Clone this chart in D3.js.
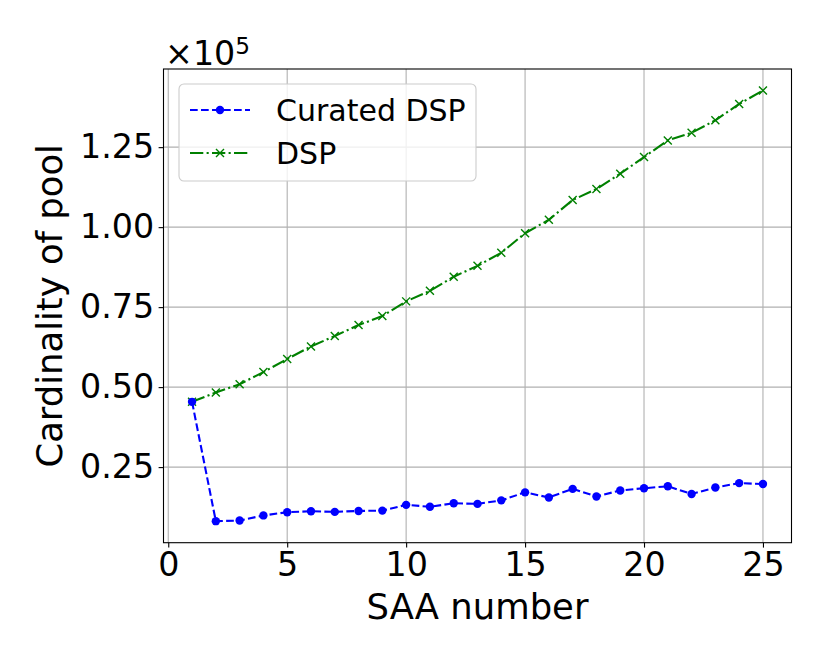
<!DOCTYPE html>
<html>
<head>
<meta charset="utf-8">
<script src="https://cdn.jsdelivr.net/npm/d3@7"></script>
<style>
	body { margin: 0; background: #fff; }
	text { font-family: "DejaVu Sans", sans-serif; fill: #000; }
</style>
</head>
<body>
<div id="chart"></div>
<script>

var saaNumbers = d3.range(1, 26);

// values in units of 1e5
var curatedDsp = [0.454, 0.081, 0.083, 0.099, 0.109, 0.112, 0.110, 0.113, 0.114, 0.132,
	0.126, 0.137, 0.135, 0.146, 0.171, 0.155, 0.182, 0.158, 0.177, 0.184,
	0.190, 0.166, 0.186, 0.200, 0.197];

var dsp = [0.454, 0.483, 0.509, 0.547, 0.588, 0.627, 0.660, 0.694, 0.722, 0.768,
	0.801, 0.845, 0.879, 0.920, 0.981, 1.023, 1.085, 1.119, 1.167, 1.219,
	1.271, 1.295, 1.334, 1.385, 1.427];

var xTicks = [0, 5, 10, 15, 20, 25];
var yTicks = [0.25, 0.50, 0.75, 1.00, 1.25];
var seriesNames = ["Curated DSP", "DSP"];

function drawChart(id) {

	d3.select(id).selectAll("*").remove();

	var width = 830, height = 664;
	var left = 163.5, right = 791.5, top = 69, bottom = 542.7;

	var svg = d3.select(id).append("svg")
				.attr("width", width)
				.attr("height", height);

	// matplotlib style 5% margins
	var xExt = d3.extent(saaNumbers);
	var xPad = (xExt[1] - xExt[0]) * 0.05;
	var all = curatedDsp.concat(dsp);
	var yExt = d3.extent(all);
	var yPad = (yExt[1] - yExt[0]) * 0.05;

	var x = d3.scaleLinear().domain([xExt[0] - xPad, xExt[1] + xPad]).range([left, right]);
	var y = d3.scaleLinear().domain([yExt[0] - yPad, yExt[1] + yPad]).range([bottom, top]);

	// grid
	var grid = svg.append("g").attr("class", "grid");
	grid.selectAll("line.gx")
		.data(xTicks)
		.enter()
		.append("line")
		.attr("x1", function(d) {return x(d);})
		.attr("x2", function(d) {return x(d);})
		.attr("y1", top)
		.attr("y2", bottom)
		.attr("stroke", "#b0b0b0")
		.attr("stroke-width", 1.1);
	grid.selectAll("line.gy")
		.data(yTicks)
		.enter()
		.append("line")
		.attr("x1", left)
		.attr("x2", right)
		.attr("y1", function(d) {return y(d);})
		.attr("y2", function(d) {return y(d);})
		.attr("stroke", "#b0b0b0")
		.attr("stroke-width", 1.1);

	// axes
	var xAxis = d3.axisBottom(x).tickValues(xTicks).tickSize(4.9).tickPadding(4.5)
				.tickFormat(d3.format("d"));
	var yAxis = d3.axisLeft(y).tickValues(yTicks).tickSize(4.9).tickPadding(4.5)
				.tickFormat(d3.format(".2f"));

	var gx = svg.append("g").attr("transform", "translate(0," + bottom + ")").call(xAxis);
	var gy = svg.append("g").attr("transform", "translate(" + left + ",0)").call(yAxis);

	[gx, gy].forEach(function(g) {
		g.select(".domain").remove();
		g.selectAll("line").attr("stroke", "#000").attr("stroke-width", 1.1);
		g.selectAll("text")
			.style("font-family", "DejaVu Sans")
			.style("font-size", "33.3px")
			.attr("fill", "#000");
	});

	// frame
	svg.append("rect")
		.attr("x", left)
		.attr("y", top)
		.attr("width", right - left)
		.attr("height", bottom - top)
		.attr("fill", "none")
		.attr("stroke", "#000")
		.attr("stroke-width", 1.1);

	var line = d3.line()
				.x(function(d) {return x(d[0]);})
				.y(function(d) {return y(d[1]);});

	var curatedPts = saaNumbers.map(function(n, i) {return [n, curatedDsp[i]];});
	var dspPts = saaNumbers.map(function(n, i) {return [n, dsp[i]];});

	// DSP (green, dash-dot, x markers)
	svg.append("path")
		.datum(dspPts)
		.attr("d", line)
		.attr("fill", "none")
		.attr("stroke", "#008000")
		.attr("stroke-width", 2.1)
		.attr("stroke-dasharray", "13.3,3.3,2.1,3.3");

	svg.selectAll("path.xmark")
		.data(dspPts)
		.enter()
		.append("path")
		.attr("class", "xmark")
		.attr("d", function(d) {
			var cx = x(d[0]), cy = y(d[1]), s = 4;
			return "M" + (cx - s) + "," + (cy - s) + "L" + (cx + s) + "," + (cy + s)
				+ "M" + (cx - s) + "," + (cy + s) + "L" + (cx + s) + "," + (cy - s);
		})
		.attr("stroke", "#008000")
		.attr("stroke-width", 1.4)
		.attr("fill", "none");

	// Curated DSP (blue, dashed, circle markers)
	svg.append("path")
		.datum(curatedPts)
		.attr("d", line)
		.attr("fill", "none")
		.attr("stroke", "#0000ff")
		.attr("stroke-width", 2.1)
		.attr("stroke-dasharray", "7.7,3.3");

	svg.selectAll("circle.dot")
		.data(curatedPts)
		.enter()
		.append("circle")
		.attr("class", "dot")
		.attr("cx", function(d) {return x(d[0]);})
		.attr("cy", function(d) {return y(d[1]);})
		.attr("r", 4.2)
		.attr("fill", "#0000ff");

	// axis labels
	svg.append("text")
		.attr("x", (left + right) / 2)
		.attr("y", 619)
		.attr("text-anchor", "middle")
		.style("font-size", "35.4px")
		.text("SAA number");

	svg.append("text")
		.attr("transform", "translate(62," + ((top + bottom) / 2) + ") rotate(-90)")
		.attr("text-anchor", "middle")
		.style("font-size", "35.4px")
		.text("Cardinality of pool");

	// offset text
	var off = svg.append("text")
		.attr("x", 165)
		.attr("y", 65)
		.style("font-size", "33.3px");
	off.append("tspan").text("\u00d710");
	off.append("tspan").attr("dy", -11).style("font-size", "23.3px").text("5");

	// legend
	var lg = svg.append("g").attr("class", "legend");
	lg.append("rect")
		.attr("x", 179)
		.attr("y", 84)
		.attr("width", 297)
		.attr("height", 97)
		.attr("rx", 5)
		.attr("fill", "#fff")
		.attr("fill-opacity", 0.8)
		.attr("stroke", "#cccccc")
		.attr("stroke-width", 1.1);

	var rows = lg.selectAll("g.row")
				.data(seriesNames)
				.enter()
				.append("g")
				.attr("class", "row")
				.attr("transform", function(d, i) {return "translate(0," + (110 + i * 43) + ")";});

	rows.append("line")
		.attr("x1", 190)
		.attr("x2", 250)
		.attr("y1", 0)
		.attr("y2", 0)
		.attr("stroke", function(d, i) {return i == 0 ? "#0000ff" : "#008000";})
		.attr("stroke-width", 2.1)
		.attr("stroke-dasharray", function(d, i) {return i == 0 ? "7.7,3.3" : "13.3,3.3,2.1,3.3";});

	rows.each(function(d, i) {
		var g = d3.select(this);
		if (i == 0) {
			g.append("circle").attr("cx", 220).attr("cy", 0).attr("r", 4.2).attr("fill", "#0000ff");
		} else {
			g.append("path")
				.attr("d", "M216,-4L224,4M216,4L224,-4")
				.attr("stroke", "#008000")
				.attr("stroke-width", 1.4);
		}
	});

	rows.append("text")
		.attr("x", 276)
		.attr("y", 11)
		.style("font-size", "30px")
		.text(function(d) {return d;});
}

drawChart("#chart");
</script>
</body>
</html>
